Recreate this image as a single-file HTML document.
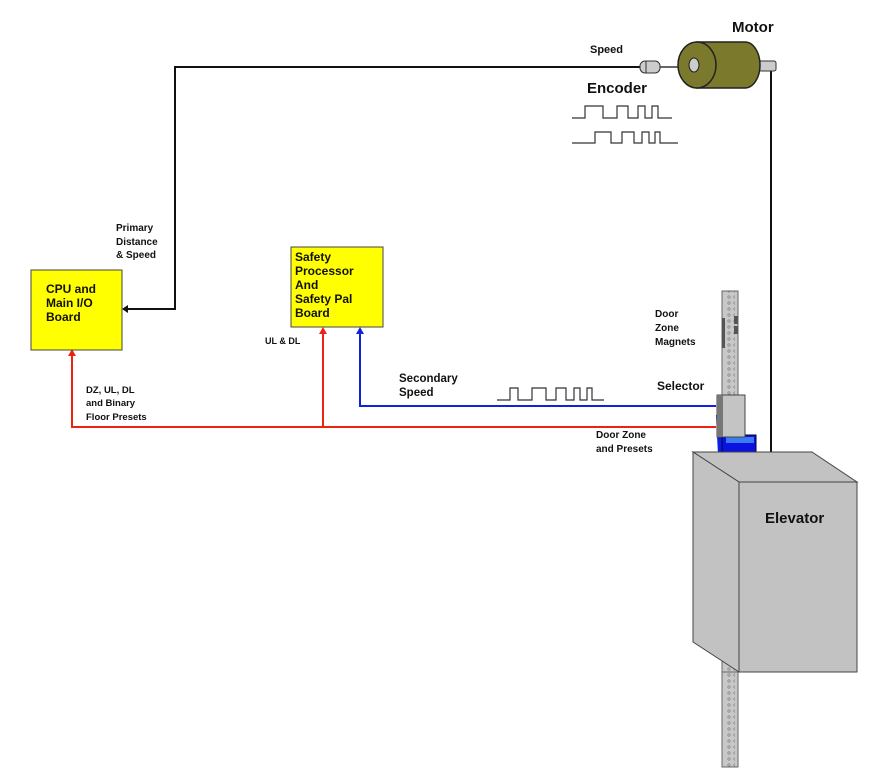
<!DOCTYPE html>
<html><head><meta charset="utf-8"><style>
body{margin:0;background:#fff}
svg{display:block}
text{font-family:"Liberation Sans",sans-serif;font-weight:bold;fill:#111}
</style></head><body>
<svg width="873" height="777" viewBox="0 0 873 777">
<defs>
<pattern id="dots" x="0" y="0" width="6" height="6" patternUnits="userSpaceOnUse"><circle cx="3" cy="3" r="1.2" fill="none" stroke="#777" stroke-width="0.6"/></pattern>
</defs>
<!-- black lines -->
<polyline points="640,67 175,67 175,309 126,309" fill="none" stroke="#111" stroke-width="2"/>
<polygon points="122,309 128,305 128,313" fill="#111"/>
<line x1="771" y1="66" x2="771" y2="452" stroke="#111" stroke-width="2"/>
<!-- rail -->
<rect x="722" y="291" width="16" height="476" fill="#c8c8c8" stroke="#666"/>
<rect x="725" y="291" width="10" height="476" fill="url(#dots)"/>
<rect x="722" y="318" width="3" height="30" fill="#555"/>
<rect x="734" y="316" width="4" height="8" fill="#555"/>
<rect x="734" y="326" width="4" height="8" fill="#555"/>
<!-- red -->
<polyline points="716,427 72,427 72,354" fill="none" stroke="#e21" stroke-width="2"/>
<polygon points="72,349 68,356 76,356" fill="#e21"/>
<line x1="323" y1="427" x2="323" y2="332" stroke="#e21" stroke-width="2"/>
<polygon points="323,327 319,334 327,334" fill="#e21"/>
<!-- blue -->
<polyline points="716,406 360,406 360,332" fill="none" stroke="#12d" stroke-width="2"/>
<polygon points="360,327 356,334 364,334" fill="#12d"/>
<!-- boxes -->
<rect x="31" y="270" width="91" height="80" fill="#ff0" stroke="#444"/>
<text x="46" y="293" font-size="12">CPU and</text>
<text x="46" y="307" font-size="12">Main I/O</text>
<text x="46" y="321" font-size="12">Board</text>
<rect x="291" y="247" width="92" height="80" fill="#ff0" stroke="#444"/>
<text x="295" y="261" font-size="12">Safety</text>
<text x="295" y="275" font-size="12">Processor</text>
<text x="295" y="289" font-size="12">And</text>
<text x="295" y="303" font-size="12">Safety Pal</text>
<text x="295" y="317" font-size="12">Board</text>
<!-- labels -->
<text x="116" y="231" font-size="10">Primary</text>
<text x="116" y="245" font-size="10">Distance</text>
<text x="116" y="258" font-size="10">&amp; Speed</text>
<text x="265" y="344" font-size="9">UL &amp; DL</text>
<text x="86" y="393" font-size="9.5">DZ, UL, DL</text>
<text x="86" y="406" font-size="9.5">and Binary</text>
<text x="86" y="420" font-size="9.5">Floor Presets</text>
<text x="399" y="382" font-size="11.5">Secondary</text>
<text x="399" y="396" font-size="11.5">Speed</text>
<text x="596" y="438" font-size="10">Door Zone</text>
<text x="596" y="452" font-size="10">and Presets</text>
<text x="655" y="317" font-size="10">Door</text>
<text x="655" y="331" font-size="10">Zone</text>
<text x="655" y="345" font-size="10">Magnets</text>
<text x="657" y="390" font-size="12">Selector</text>
<text x="590" y="53" font-size="11">Speed</text>
<text x="587" y="93" font-size="15">Encoder</text>
<text x="732" y="32" font-size="15">Motor</text>
<!-- waveforms -->
<g fill="none" stroke="#333" stroke-width="1.2">
<polyline points="572,118 585,118 585,106 603,106 603,118 617,118 617,106 628,106 628,118 638,118 638,106 645,106 645,118 652,118 652,106 658,106 658,118 672,118"/>
<polyline points="572,143 595,143 595,132 611,132 611,143 622,143 622,132 634,132 634,143 642,143 642,132 649,132 649,143 655,143 655,132 660,132 660,143 678,143"/>
<polyline points="497,400 510,400 510,388 518,388 518,400 532,400 532,388 546,388 546,400 556,400 556,388 566,388 566,400 574,400 574,388 580,388 580,400 587,400 587,388 592,388 592,400 604,400"/>
</g>
<!-- encoder -->
<rect x="640" y="61" width="20" height="12" rx="5" fill="#ccc" stroke="#333"/>
<line x1="646" y1="61" x2="646" y2="73" stroke="#333"/>
<line x1="660" y1="67" x2="678" y2="67" stroke="#333" stroke-width="1.5"/>
<!-- motor -->
<rect x="759" y="61" width="17" height="10" rx="2" fill="#ccc" stroke="#333"/>
<path d="M697,42 L745,42 A15,23 0 0 1 745,88 L697,88 Z" fill="#7b7a2c" stroke="#222" stroke-width="1.5"/>
<ellipse cx="697" cy="65" rx="19" ry="23" fill="#7b7a2c" stroke="#222" stroke-width="1.5"/>
<ellipse cx="694" cy="65" rx="5" ry="7" fill="#ccc" stroke="#222"/>
<!-- selector -->
<path d="M716,415 L745,415 L745,455 L718,455 Z" fill="#0a1ee8"/>
<rect x="722" y="435" width="34" height="22" fill="#0b12e0" stroke="#003"/>
<rect x="726" y="437" width="28" height="6" fill="#3a7cf0"/>
<path d="M713,459 L770,459" stroke="#00f" stroke-width="2"/>
<rect x="717" y="395" width="28" height="42" fill="#c4c4c4" stroke="#444"/>
<rect x="717" y="395" width="6" height="42" fill="#777"/>
<!-- elevator -->
<polygon points="693,452 812,452 857,482 739,482" fill="#c2c2c2" stroke="#444"/>
<polygon points="693,452 739,482 739,672 693,642" fill="#c2c2c2" stroke="#444"/>
<rect x="739" y="482" width="118" height="190" fill="#c2c2c2" stroke="#444"/>
<rect x="722" y="672" width="16" height="95" fill="#c8c8c8" stroke="#666"/>
<rect x="725" y="672" width="10" height="95" fill="url(#dots)"/>
<text x="765" y="523" font-size="15">Elevator</text>
</svg>
</body></html>
